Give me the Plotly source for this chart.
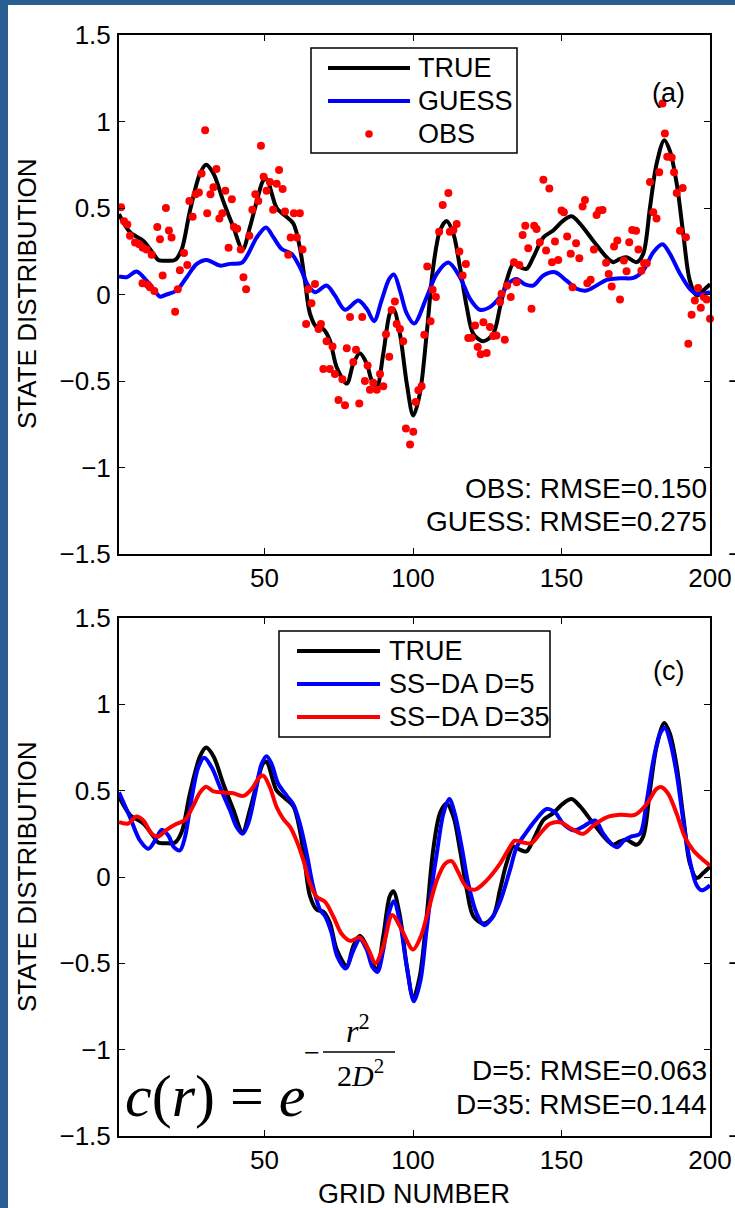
import plotly.graph_objects as go

W, H = 735, 1208
def px(x): return x / W
def py(y): return 1 - y / H

# ---------------- data ----------------
true_x = [1, 4.7, 9.2, 12.6, 14.2, 17, 19.9, 22.1, 24.9, 28.3, 30.3, 32.8, 36.1, 39.5, 42.6, 45.1, 47.4,
          49.6, 50.7, 54.1, 56.9, 59.7, 61.9, 63.6, 65.3, 67.6, 69.8, 72.0, 74.3, 77.7, 79.9, 82.1, 84.4,
          86.1, 87.8, 90.0, 92.2, 93.4, 95.6, 97.9, 100.1, 102.3, 104.6, 106.8, 109.1, 111.3, 113.6, 115.8,
          118.1, 120.3, 123.7, 127.0, 129.3, 131.5, 133.8, 136.0, 138.2, 140.5, 143.9, 147.2, 150.6, 153.4,
          156.2, 160.7, 165.2, 167.4, 169.7, 171.9, 175.3, 177.5, 179.8, 182.0, 184.6, 186.5, 188.8, 191.0,
          193.2, 195.5, 197.7, 200]
true_y = [0.465, 0.36, 0.31, 0.235, 0.20, 0.195, 0.20, 0.26, 0.485, 0.70, 0.75, 0.70, 0.54, 0.39, 0.26, 0.39,
          0.54, 0.66, 0.667, 0.50, 0.456, 0.41, 0.27, 0.08, -0.11, -0.19, -0.20, -0.265, -0.42, -0.515, -0.40,
          -0.34, -0.40, -0.496, -0.535, -0.34, -0.11, -0.083, -0.227, -0.515, -0.70, -0.573, -0.227, 0.158,
          0.37, 0.425, 0.35, 0.158, -0.073, -0.227, -0.27, -0.227, -0.073, 0.08, 0.177, 0.158, 0.148, 0.215,
          0.33, 0.37, 0.427, 0.452, 0.41, 0.31, 0.215, 0.187, 0.206, 0.215, 0.187, 0.235, 0.504, 0.754, 0.892,
          0.83, 0.64, 0.35, 0.08, -0.006, 0.023, 0.06]

guess_x = [1, 3.6, 6.9, 10.3, 12.6, 14.8, 17, 20.4, 23.8, 27.2, 30.5, 35, 38.4, 42.3, 44.5, 47.4, 50.5, 53,
           55.8, 59.1, 61.9, 64.7, 67, 70.9, 73.7, 77.1, 81.6, 84.4, 86.9, 89.4, 92, 93.6, 95.6, 97.9, 100.4,
           104.6, 108, 111.9, 115.8, 119.2, 122.5, 125.9, 129.3, 132.6, 134.9, 137.7, 140.5, 143.9, 147.8,
           151.7, 155.1, 158.4, 161.8, 165.2, 169.7, 174.2, 177.5, 180.9, 184, 186.5, 189.9, 193.2, 195.5,
           197.5, 200]
guess_y = [0.104, 0.10, 0.133, 0.08, 0.033, -0.012, 0, 0.023, 0.10, 0.177, 0.20, 0.167, 0.177, 0.183, 0.235,
           0.33, 0.388, 0.33, 0.263, 0.235, 0.158, 0.052, 0.013, 0.052, -0.006, -0.088, -0.035, -0.083,
           -0.154, -0.035, 0.09, 0.115, 0.023, -0.11, -0.168, -0.015, 0.12, 0.185, 0.10, -0.025, -0.088,
           -0.073, -0.015, 0.071, 0.09, 0.058, 0.052, 0.11, 0.129, 0.08, 0.033, 0.023, 0.052, 0.085, 0.094,
           0.096, 0.138, 0.244, 0.29, 0.235, 0.12, 0.033, 0.004, 0.005, 0.013]

obs_x = [1.7, 2.7, 3.8, 4.7, 6.4, 7.8, 9.0, 10.3, 12.0, 8.9, 10.7, 11.4, 12.9, 13.9, 14.8, 15.7, 16.8, 17.8,
         18.7, 19.9, 20.8, 21.5, 22.9, 24.0, 24.7, 25.8, 26.8, 27.9, 28.8, 30.0, 30.7, 31.8, 32.8, 33.8, 34.8,
         35.8, 36.8, 39.0, 37.9, 39.7, 40.8, 42.0, 42.9, 43.8, 44.9, 45.9, 46.9, 47.9, 48.8, 49.7, 50.7, 51.8,
         52.9, 54.1, 54.9, 56.1, 56.9, 58.0, 58.8, 59.9, 60.9, 61.9, 62.8, 64.0, 64.7, 65.8, 67.0, 68.2, 69.0,
         69.8, 70.9, 72.0, 72.9, 73.7, 74.9, 76.2, 77.1, 77.7, 78.8, 79.9, 80.8, 81.9, 82.9, 83.8, 84.7, 85.5,
         86.6, 87.8, 88.9, 90.0, 90.9, 92.0, 92.8, 93.9, 94.5, 95.6, 96.7,
         97.6, 99.0, 100.1, 100.9, 101.8, 102.9, 103.8, 104.8, 105.9, 106.6, 107.7, 108.8, 110.0, 111.9, 112.4,
         113.6, 114.7, 115.6, 116.7, 117.8, 118.6, 119.7, 120.9, 121.8, 122.8, 123.7, 124.8, 125.9, 127.0,
         128.1, 129.3, 129.8, 130.9, 131.7, 132.9, 134.0, 134.9, 135.8, 136.9, 137.8, 138.8, 139.9, 140.8,
         141.6, 142.7, 143.9, 144.8, 145.9, 146.8, 147.8, 148.9, 150.0, 150.8, 151.9, 153.1, 153.7, 154.9,
         156.0, 157.1, 157.9, 158.7, 159.8, 160.9, 161.8, 162.7, 163.8, 165.0, 165.9, 166.9, 167.7, 168.8,
         169.7, 171.0, 171.9, 172.8, 173.8, 175.1, 175.9, 176.9, 177.8, 178.7, 179.8, 180.9, 182.0, 182.9,
         184.0, 184.8, 185.6, 187.1, 187.9, 188.8, 190.8, 189.9, 191.9, 192.7, 193.8, 194.9, 196.0, 196.9,
         197.9, 198.9, 200.0]
obs_y = [0.504, 0.423, 0.404, 0.34, 0.30, 0.29, 0.27, 0.26, 0.23, 0.065, 0.056, 0.042, 0.02, 0.39, 0.32, 0.11,
         0.50, 0.37, 0.33, -0.10, 0.03, 0.14, 0.24, 0.17, 0.54, 0.45, 0.58, 0.59, 0.70, 0.95, 0.47, 0.58, 0.62,
         0.725, 0.44, 0.47, 0.60, 0.55, 0.27, 0.39, 0.38, 0.26, 0.10, 0.03, 0.34, 0.49, 0.58, 0.54, 0.86, 0.68,
         0.60, 0.65, 0.49, 0.64, 0.72, 0.61, 0.48, 0.23, 0.33, 0.47, 0.33, 0.47, 0.26, -0.17, 0.03, -0.05, 0.06,
         -0.20, -0.17, -0.43, -0.27, -0.43, -0.30, -0.46, -0.61, -0.49, -0.64, -0.31, -0.13, -0.39, -0.32,
         -0.63, -0.13, -0.50, -0.41, -0.55, -0.51, -0.55, -0.46, -0.53, -0.23, -0.36, -0.09, -0.04, -0.17,
         -0.20, -0.27,
         -0.775, -0.867, -0.794, -0.621, -0.554, -0.531, -0.233, 0.162, -0.154, 0.027, -0.015, 0.363, 0.517,
         0.587, 0.363, 0.373, 0.408, 0.248, 0.110, 0.177, -0.252, -0.250, -0.179, -0.304, -0.346, -0.160,
         -0.338, -0.188, -0.240, -0.237, -0.044, 0.004, -0.262, 0.052, -0.015, 0.187, 0.071, 0.171, 0.344,
         0.398, 0.267, -0.083, 0.398, 0.379, 0.302, 0.663, 0.254, 0.613, 0.187, 0.306, 0.200, 0.485, 0.475,
         0.335, 0.235, 0.042, 0.296, 0.210, 0.508, 0.546, 0.065, 0.085, 0.260, 0.460, 0.485, 0.488, 0.183,
         0.119, 0.046, 0.277, 0.312, -0.029, 0.196, 0.135, 0.302, 0.373, 0.369, 0.260, 0.138, 0.181, 0.181,
         0.650, 0.475, 0.440, 0.706, 1.104, 0.931, 0.796, 0.792, 0.706, 0.587, 0.615, 0.369, 0.331, -0.285,
         -0.117, -0.035, 0.037, -0.077, -0.015, -0.029, -0.140]

d5_x = [1, 4.7, 8.1, 10.9, 13.1, 15.4, 17.6, 19.5, 21.5, 23.2, 25.5, 27.7, 29.7, 32.2, 35, 38.4, 40.6, 42.6,
        44.5, 46.8, 49, 50.7, 52.4, 54.6, 57.5, 59.7, 61.9, 64.2, 66.4, 68.7, 70.5, 72.5, 74.5, 77.3, 79.8,
        82.1, 84.4, 86.3, 88, 90, 92, 93.5, 95.6, 97.9, 100.3, 102.5, 104.6, 106.8, 108, 110.2, 112.2, 114.1,
        116.4, 118.6, 121.4, 124, 126.5, 129.3, 132.6, 134.9, 138.2, 141.6, 145, 147.8, 150.6, 154, 157.3,
        161.3, 164.1, 166.9, 168.8, 171, 173.6, 176.4, 178.7, 180.9, 183.1, 184.8, 186.5, 188.8, 191, 193.2,
        195.5, 197.2, 200]
d5_y = [0.49, 0.346, 0.21, 0.163, 0.21, 0.273, 0.24, 0.173, 0.154, 0.23, 0.46, 0.635, 0.69, 0.635, 0.52,
        0.385, 0.29, 0.25, 0.31, 0.48, 0.654, 0.70, 0.654, 0.54, 0.47, 0.42, 0.31, 0.135, -0.058, -0.19, -0.23,
        -0.32, -0.46, -0.53, -0.43, -0.36, -0.42, -0.52, -0.55, -0.42, -0.2, -0.14, -0.26, -0.52, -0.72, -0.6,
        -0.3, 0.0, 0.135, 0.365, 0.452, 0.365, 0.173, -0.038, -0.21, -0.28, -0.24, -0.144, 0.038, 0.173, 0.26,
        0.337, 0.394, 0.375, 0.308, 0.27, 0.292, 0.327, 0.25, 0.19, 0.173, 0.21, 0.235, 0.25, 0.44, 0.673,
        0.827, 0.865, 0.79, 0.596, 0.327, 0.096, -0.048, -0.077, -0.048]

d35_x = [1, 4.1, 6.9, 9.2, 12, 14.2, 17, 20.4, 23.2, 26, 28.3, 30.3, 32.8, 36.1, 39.5, 42.9, 45.7, 48.3, 49.6,
         51.8, 54.1, 56.3, 58.6, 60.8, 63.1, 65.3, 67.6, 70.4, 73.2, 76, 79, 82, 85, 87.3, 90, 93, 96, 100,
         102.5, 104.6, 108, 110.8, 113, 115.2, 118, 120.9, 124.8, 129.3, 132.6, 134.3, 137.1, 139.9, 142.7,
         146.1, 149.5, 153.4, 157.3, 160.7, 165.2, 169.7, 174.7, 178.7, 182, 183.7, 186, 188.8, 191.6, 194.4,
         197.2, 200]
d35_y = [0.317, 0.31, 0.35, 0.327, 0.25, 0.235, 0.273, 0.308, 0.33, 0.413, 0.49, 0.523, 0.496, 0.49, 0.485,
         0.47, 0.51, 0.577, 0.587, 0.52, 0.404, 0.337, 0.29, 0.21, 0.096, -0.038, -0.115, -0.144, -0.23, -0.33,
         -0.37, -0.35, -0.42, -0.50, -0.40, -0.22, -0.30, -0.42, -0.35, -0.23, -0.02, 0.077, 0.092, 0.029,
         -0.058, -0.073, -0.02, 0.077, 0.173, 0.21, 0.20, 0.196, 0.25, 0.308, 0.317, 0.279, 0.25, 0.298, 0.346,
         0.36, 0.36, 0.423, 0.51, 0.52, 0.48, 0.365, 0.23, 0.154, 0.106, 0.067]

x_ticks = [50, 100, 150, 200]
y_ticks = [-1.5, -1, -0.5, 0, 0.5, 1, 1.5]
y_ticktext = ["\u22121.5", "\u22121", "\u22120.5", "0", "0.5", "1", "1.5"]

legend_a = ["TRUE", "GUESS", "OBS"]
legend_c = ["TRUE", "SS\u2212DA D=5", "SS\u2212DA D=35"]
rmse_a = ["OBS: RMSE=0.150", "GUESS: RMSE=0.275"]
rmse_c = ["D=5: RMSE=0.063", "D=35: RMSE=0.144"]

# ---------------- style ----------------
SANS = "Liberation Sans, Arial, Helvetica, sans-serif"
SERIF = "Liberation Serif, Times New Roman, serif"
FS_TICK = 26
FS = 27
BLACK, BLUE, RED = "#000000", "#0000ff", "#ff0000"
LW = 4
BORDER = "#285e91"

fig = go.Figure()
sp = dict(shape="spline", smoothing=0.9, width=LW)
fig.add_trace(go.Scatter(x=true_x, y=true_y, mode="lines", line=dict(color=BLACK, **sp), xaxis="x", yaxis="y"))
fig.add_trace(go.Scatter(x=guess_x, y=guess_y, mode="lines", line=dict(color=BLUE, **sp), xaxis="x", yaxis="y"))
fig.add_trace(go.Scatter(x=obs_x, y=obs_y, mode="markers", marker=dict(color=RED, size=8, line=dict(width=0)),
                         cliponaxis=False, xaxis="x", yaxis="y"))
fig.add_trace(go.Scatter(x=true_x, y=true_y, mode="lines", line=dict(color=BLACK, **sp), xaxis="x2", yaxis="y2"))
fig.add_trace(go.Scatter(x=d5_x, y=d5_y, mode="lines", line=dict(color=BLUE, **sp), xaxis="x2", yaxis="y2"))
fig.add_trace(go.Scatter(x=d35_x, y=d35_y, mode="lines", line=dict(color=RED, **sp), xaxis="x2", yaxis="y2"))

ax_common = dict(showline=True, linecolor="black", linewidth=2, mirror="allticks", ticks="inside",
                 ticklen=6, tickwidth=1.2, tickcolor="black", showgrid=False, zeroline=False, automargin=False,
                 tickfont=dict(family=SANS, size=FS_TICK, color="black"))
xdom = [px(119), px(710)]
fig.update_layout(
    template="none",
    width=W, height=H, margin=dict(l=0, r=0, t=0, b=0, pad=0), autosize=False,
    paper_bgcolor="white", plot_bgcolor="white", showlegend=False,
    xaxis=dict(domain=xdom, anchor="y", range=[1, 200], tickvals=x_ticks, ticklabelstandoff=0, **ax_common),
    yaxis=dict(domain=[py(554), py(35)], anchor="x", range=[-1.5, 1.5], tickvals=y_ticks,
               ticktext=y_ticktext, ticklabelstandoff=1, **ax_common),
    xaxis2=dict(domain=xdom, anchor="y2", range=[1, 200], tickvals=x_ticks, ticklabelstandoff=0, **ax_common),
    yaxis2=dict(domain=[py(1136), py(618)], anchor="x2", range=[-1.5, 1.5], tickvals=y_ticks,
                ticktext=y_ticktext, ticklabelstandoff=1, **ax_common),
)

shapes = []
ann = []
# window border
shapes.append(dict(type="rect", xref="paper", yref="paper", x0=0, x1=px(8), y0=0, y1=1,
                   fillcolor=BORDER, line=dict(width=0), layer="below"))
shapes.append(dict(type="rect", xref="paper", yref="paper", x0=0, x1=1, y0=py(5), y1=1,
                   fillcolor=BORDER, line=dict(width=0), layer="below"))

def legend(box, rows, line_x, text_x, labels, kinds):
    x0, x1, y0, y1 = box
    shapes.append(dict(type="rect", xref="paper", yref="paper", x0=px(x0), x1=px(x1), y0=py(y1), y1=py(y0),
                       fillcolor="white", line=dict(color="black", width=1.5)))
    for yy, lab, (kind, col) in zip(rows, labels, kinds):
        if kind == "line":
            shapes.append(dict(type="line", xref="paper", yref="paper", x0=px(line_x[0]), x1=px(line_x[1]),
                               y0=py(yy), y1=py(yy), line=dict(color=col, width=LW)))
        else:
            cx = (line_x[0] + line_x[1]) / 2
            shapes.append(dict(type="circle", xref="paper", yref="paper", x0=px(cx - 3.8), x1=px(cx + 3.8),
                               y0=py(yy + 3.8), y1=py(yy - 3.8), fillcolor=col, line=dict(width=0)))
        ann.append(dict(xref="paper", yref="paper", x=px(text_x), y=py(yy), text=lab, showarrow=False,
                        xanchor="left", yanchor="middle", font=dict(family=SANS, size=FS, color="black")))

legend((311, 517, 48, 153), [68, 101, 134], (328, 410), 416, legend_a,
       [("line", BLACK), ("line", BLUE), ("dot", RED)])
legend((279, 550, 631, 737), [651, 684, 717], (297, 380), 387, legend_c,
       [("line", BLACK), ("line", BLUE), ("line", RED)])

def txt(x, y, s, xa="center", size=FS, fam=SANS, angle=0):
    ann.append(dict(xref="paper", yref="paper", x=px(x), y=py(y), text=s, showarrow=False, xanchor=xa,
                    yanchor="middle", textangle=angle, font=dict(family=fam, size=size, color="black")))

txt(668, 93, "(a)")
txt(668, 671, "(c)")
txt(709, 488, rmse_a[0], xa="right", size=28)
txt(709, 521, rmse_a[1], xa="right", size=28)
txt(709, 1070, rmse_c[0], xa="right", size=28)
txt(709, 1104, rmse_c[1], xa="right", size=28)
txt(27, 294, "STATE DISTRIBUTION", size=26, angle=-90)
txt(27, 877, "STATE DISTRIBUTION", size=26, angle=-90)
txt(414, 1194, "GRID NUMBER")

# neighbouring panel tick-label fragments at right edge
for yy in (381, 554, 963, 1136):
    txt(726, yy, "\u2212", xa="left", size=FS_TICK)

# formula c(r) = e^{-r^2/(2D^2)}
txt(123, 1096, "<i>c</i>(<i>r</i>) = <i>e</i>", xa="left", size=60, fam=SERIF)
txt(312, 1052, "\u2212", size=28, fam=SERIF)
txt(358, 1029, "<i>r</i><sup>2</sup>", size=32, fam=SERIF)
txt(360, 1073, "2<i>D</i><sup>2</sup>", size=30, fam=SERIF)
shapes.append(dict(type="line", xref="paper", yref="paper", x0=px(323), x1=px(395), y0=py(1052), y1=py(1052),
                   line=dict(color="black", width=1.5)))

fig.update_layout(shapes=shapes, annotations=ann)
fig.write_html("out.html")
